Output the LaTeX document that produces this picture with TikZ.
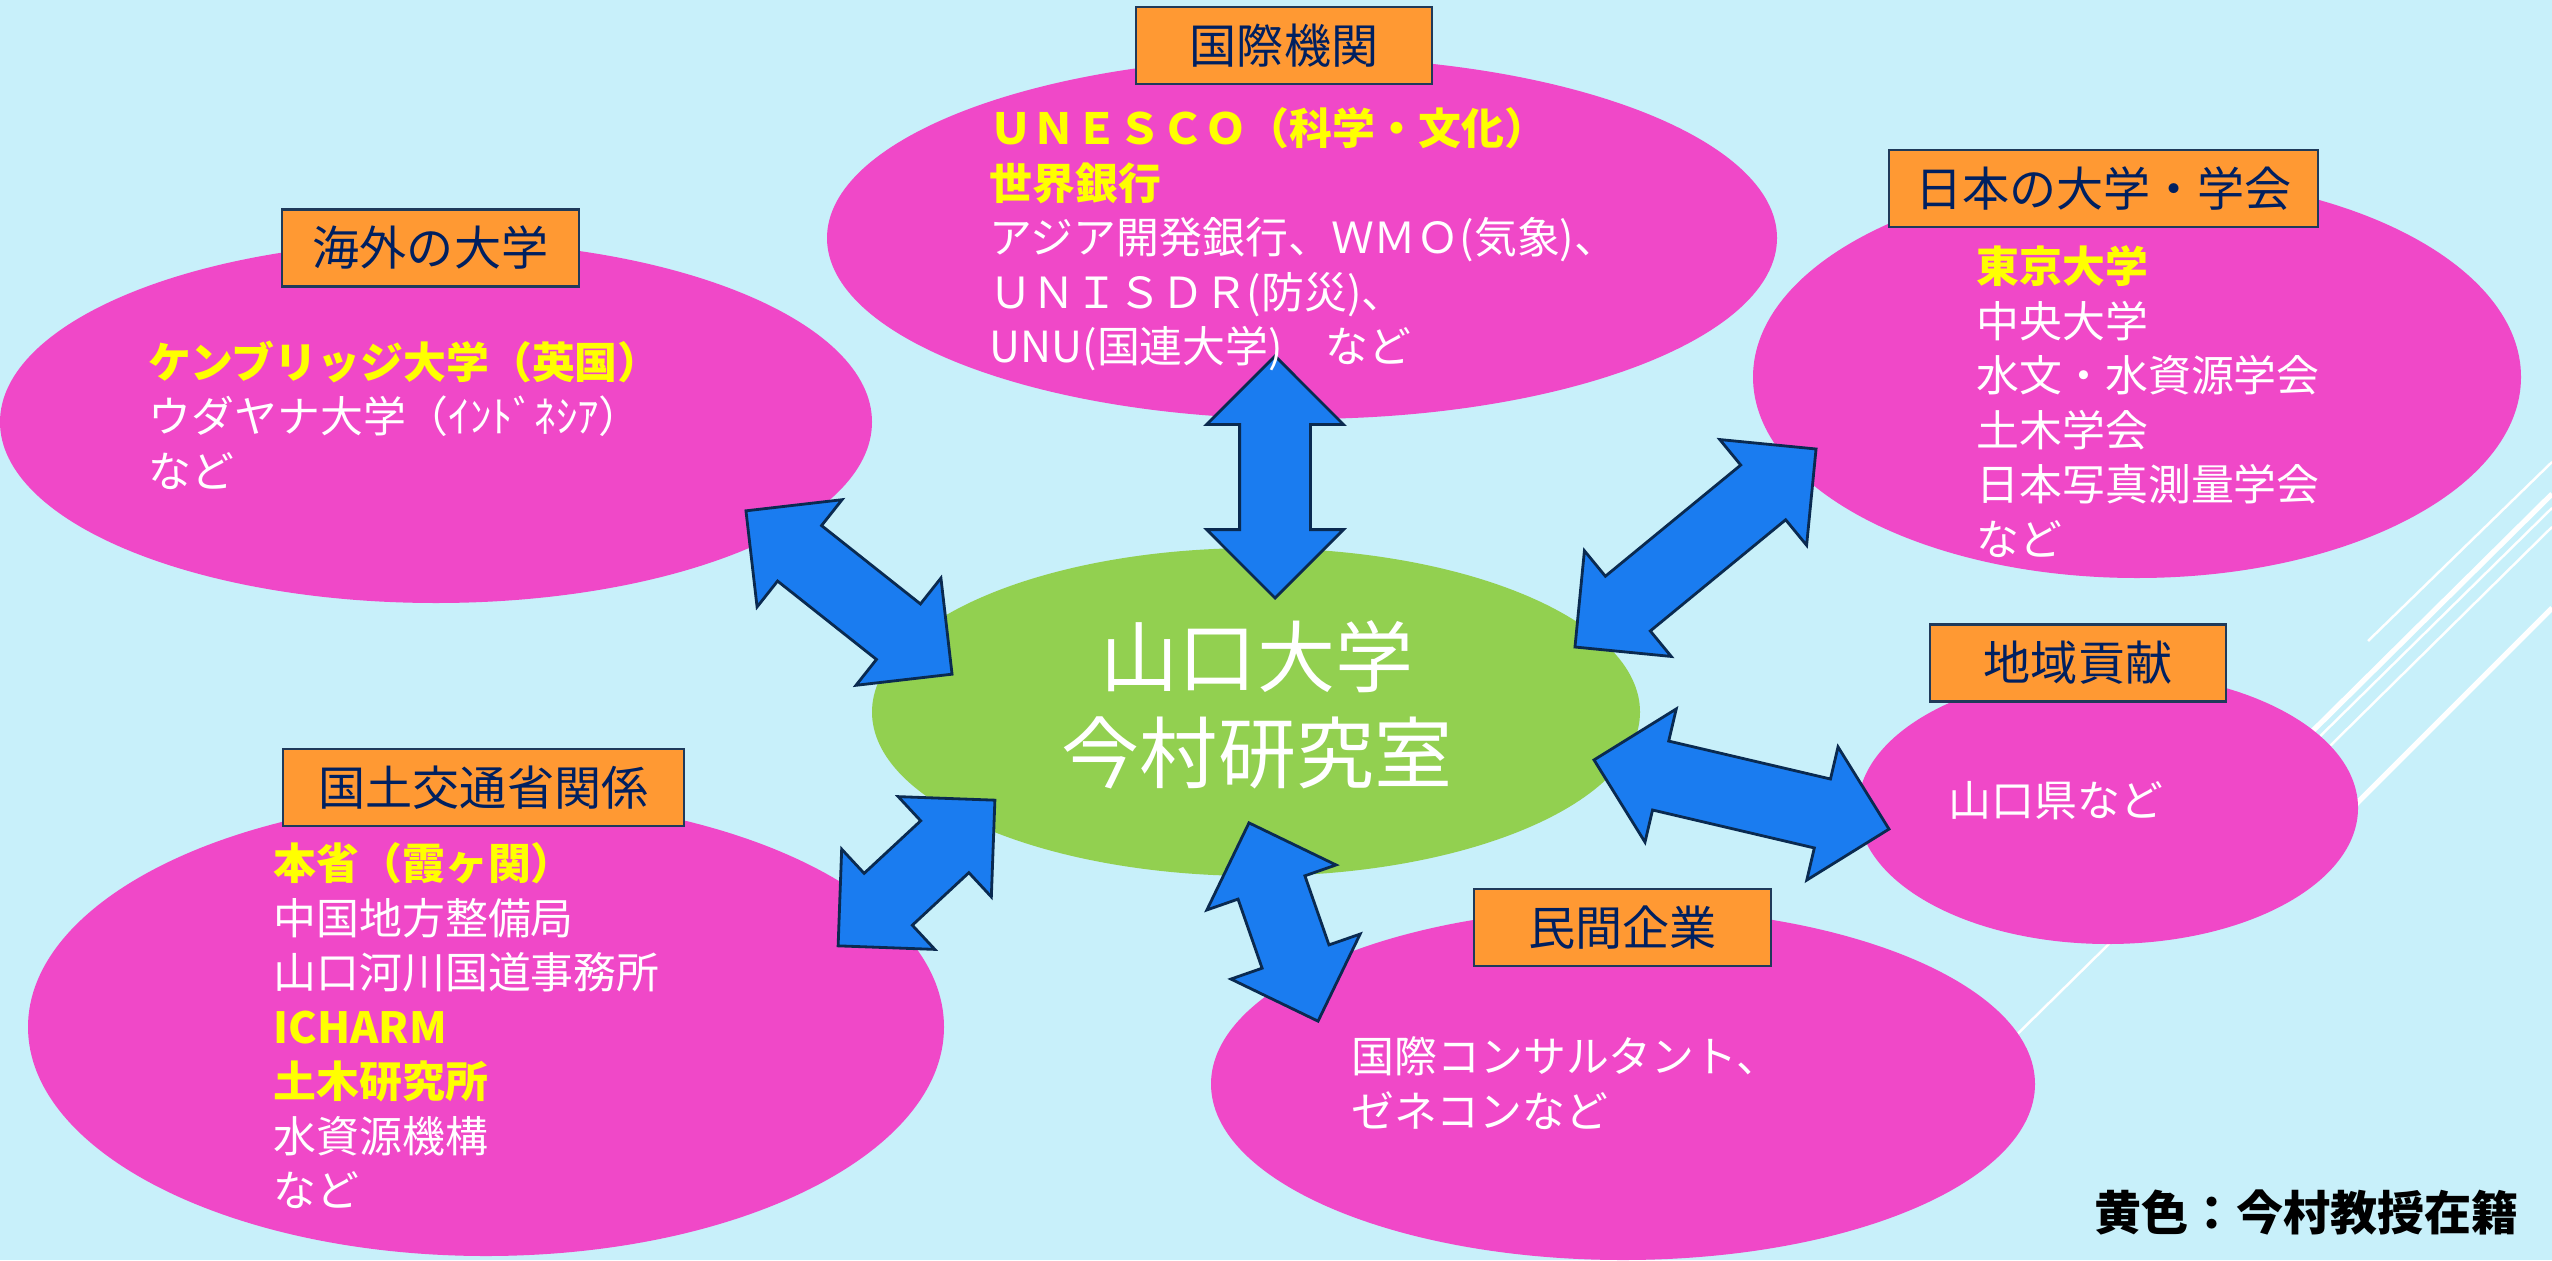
\documentclass[tikz,border=0pt]{standalone}
\usepackage{fontspec}
\setmainfont{Noto Sans CJK JP}
\usetikzlibrary{shapes.geometric,shapes.arrows}
\definecolor{bgcyan}{HTML}{C8F0FA}
\definecolor{pinkfill}{HTML}{F048C8}
\definecolor{labelorange}{HTML}{FF9933}
\definecolor{labelnavy}{HTML}{1F3A5A}
\definecolor{textnavy}{HTML}{002060}
\definecolor{labgreen}{HTML}{92D050}
\definecolor{arrowblue}{HTML}{1A7CF0}
\definecolor{arrowedge}{HTML}{0A2A50}
\definecolor{hiyellow}{HTML}{FFFF00}
\begin{document}
\begin{tikzpicture}[
  field/.style={ellipse,fill=pinkfill,inner sep=0pt},
  tag/.style={draw=labelnavy,thick,fill=labelorange,text=textnavy,minimum height=0.77cm,inner sep=0pt,font=\fontsize{13.4}{16}\selectfont},
  body/.style={anchor=north west,align=left,inner sep=0pt,text=white,font=\fontsize{12.2}{15.5}\selectfont},
  link/.style={double arrow,draw=arrowedge,thick,fill=arrowblue,inner xsep=0pt,inner ysep=0.34cm,double arrow head extend=0.33cm},
  deco/.style={white,line width=0.7pt}
]
\useasboundingbox (0,0) rectangle (25.52,12.60);
\fill[bgcyan] (0,0) rectangle (25.52,12.60);
% white lines at the right edge
\draw[deco] (23.68,6.19) -- (25.52,7.98);
\draw[deco,line width=1.5pt] (22.50,4.67) -- (25.52,7.66);
\draw[deco] (19.90,1.99) -- (25.52,7.52);
\draw[deco] (22.60,4.45) -- (25.52,7.33);
\draw[deco,line width=1.5pt] (23.00,4.00) -- (25.52,6.52);
% ellipses
\node[field,minimum width=9.50cm,minimum height=3.62cm] (intl) at (13.02,10.22) {};
\node[field,minimum width=8.72cm,minimum height=3.62cm] (abroad) at (4.36,8.38) {};
\node[field,minimum width=7.68cm,minimum height=4.02cm] (japan) at (21.37,8.83) {};
\node[field,minimum width=5.00cm,minimum height=2.72cm] (local) at (21.08,4.52) {};
\node[field,minimum width=8.24cm,minimum height=3.52cm] (private) at (16.23,1.76) {};
\node[field,minimum width=9.16cm,minimum height=4.58cm] (mlit) at (4.86,2.33) {};
\node[ellipse,fill=labgreen,inner sep=0pt,minimum width=7.68cm,minimum height=3.28cm] (lab) at (12.56,5.48) {};
% labels
\node[tag,minimum width=2.96cm] (intltag) at (12.84,12.145) {国際機関};
\node[tag,minimum width=2.97cm] (abroadtag) at (4.305,10.12) {海外の大学};
\node[tag,minimum width=4.29cm] (japantag) at (21.035,10.715) {日本の大学・学会};
\node[tag,minimum width=4.01cm] (mlittag) at (4.835,4.725) {国土交通省関係};
\node[tag,minimum width=2.96cm] (localtag) at (20.78,5.97) {地域貢献};
\node[tag,minimum width=2.97cm] (privatetag) at (16.225,3.325) {民間企業};
% arrows
\node[link,minimum height=2.42cm,rotate=90] (arrintl) at (12.75,7.83) {};
\node[link,minimum height=2.63cm,rotate=-38.4] (arrabroad) at (8.49,6.675) {};
\node[link,minimum height=3.12cm,rotate=39.4] (arrjapan) at (16.955,7.12) {};
\node[link,minimum height=3.03cm,rotate=-13.2] (arrlocal) at (17.415,4.655) {};
\node[link,minimum height=2.10cm,rotate=-70.8] (arrprivate) at (12.835,3.38) {};
\node[link,minimum height=2.14cm,rotate=42.9] (arrmlit) at (9.165,3.87) {};
% texts
\node[align=center,inner sep=0pt,text=white,font=\fontsize{22.2}{27.3}\selectfont] (labname) at (12.57,5.55) {山口大学\\今村研究室};
\node[body] (intltext) at (9.89,11.53) {\textcolor{hiyellow}{\bfseries ＵＮＥＳＣＯ（科学・文化）}\\\textcolor{hiyellow}{\bfseries 世界銀行}\\アジア開発銀行、ＷＭＯ(気象)、\\ＵＮＩＳＤＲ(防災)、\\UNU(国連大学)　など};
\node[body] (abroadtext) at (1.48,9.20) {\textcolor{hiyellow}{\bfseries ケンブリッジ大学（英国）}\\ウダヤナ大学（ｲﾝﾄﾞﾈｼｱ）\\など};
\node[body] (japantext) at (19.76,10.15) {\textcolor{hiyellow}{\bfseries 東京大学}\\中央大学\\水文・水資源学会\\土木学会\\日本写真測量学会\\など};
\node[body] (mlittext) at (2.73,4.18) {\textcolor{hiyellow}{\bfseries 本省（霞ヶ関）}\\中国地方整備局\\山口河川国道事務所\\\textcolor{hiyellow}{\bfseries ICHARM}\\\textcolor{hiyellow}{\bfseries 土木研究所}\\水資源機構\\など};
\node[body] (localtext) at (19.48,4.79) {山口県など};
\node[body] (privatetext) at (13.51,2.24) {国際コンサルタント、\\ゼネコンなど};
\node[anchor=north west,inner sep=0pt,font=\fontsize{13.4}{16}\selectfont\bfseries] (note) at (20.94,0.71) {黄色：今村教授在籍};
\end{tikzpicture}
\end{document}
